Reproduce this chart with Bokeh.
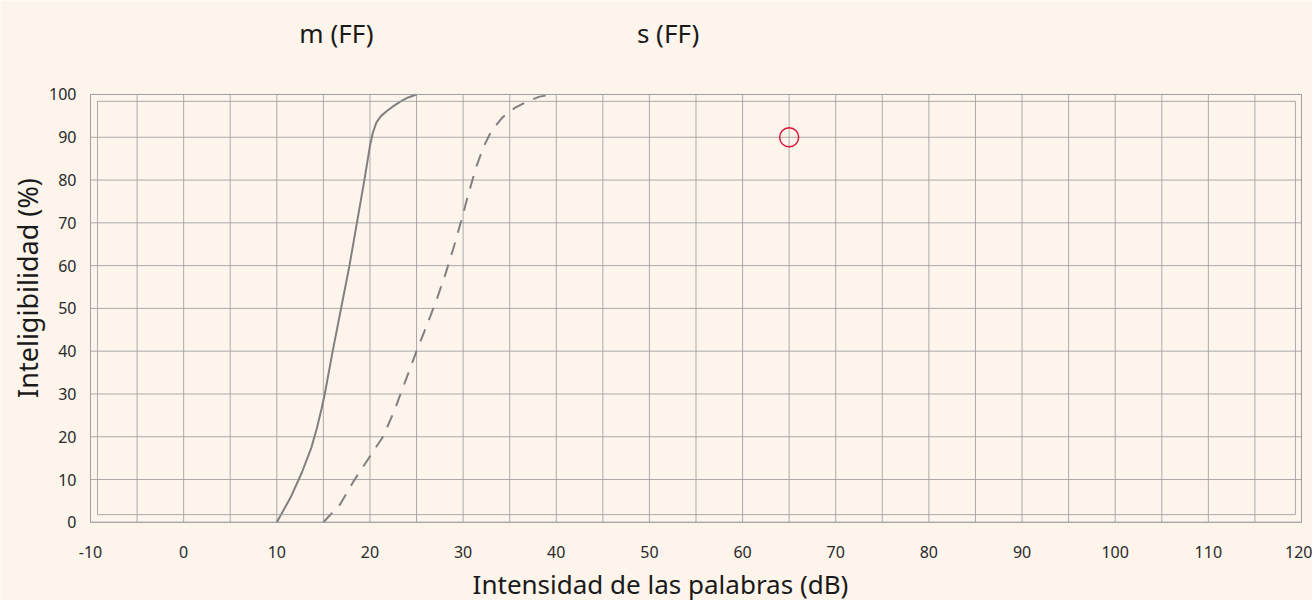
from bokeh.plotting import figure
from bokeh.models import Range1d, FixedTicker, Label, BoxAnnotation
from bokeh.embed import file_html
from bokeh.resources import INLINE

# ---- data ----
series_names = ["m (FF)", "s (FF)"]
m_db = [10, 11.5, 12.7, 13.7, 14.3, 14.8, 15.15, 16.0, 16.9, 17.8, 18.6, 19.4, 20.0, 20.3, 20.7,
        21.2, 21.85, 22.6, 23.3, 24.1, 25.0]
m_pct = [0, 5.9, 11.7, 17.4, 22, 26.5, 30, 40, 50, 60, 70, 80, 88, 91, 93.5,
         95, 96.2, 97.4, 98.4, 99.3, 100]
s_db = [15.0, 16.8, 18.3, 19.9, 21.4, 22.6, 23.8, 25.0, 26.1, 27.15, 28.1, 28.95, 29.8,
        30.6, 31.4, 32.2, 33.0, 34.2, 35.5, 36.9, 38.2, 39.6]
s_pct = [0, 4.2, 9.8, 15.1, 20, 26, 33, 40, 46, 52, 58, 64, 70.5,
         77, 83, 87.8, 91.3, 94.6, 96.8, 98.4, 99.5, 100]
point_db = [65]
point_pct = [90]
x_ticks = list(range(-10, 121, 10))
x_grid = list(range(-10, 121, 5))
y_ticks = list(range(0, 101, 10))
x_title = "Intensidad de las palabras (dB)"
y_title = "Inteligibilidad (%)"

BG = "#fdf4ec"
GRID = "#9e9e9e"
CURVE = "#808080"
FONT = "Noto Sans"
X0, X1 = x_ticks[0], x_ticks[-1]
Y0, Y1 = y_ticks[0], y_ticks[-1]

# the frame covers the whole canvas; the chart box is -10..120 x 0..100
p = figure(width=1312, height=600, output_backend="svg", toolbar_location=None,
           x_range=Range1d(-19.661, 121.181), y_range=Range1d(-18.28, 121.97),
           min_border_left=0, min_border_right=0, min_border_top=0, min_border_bottom=0)
p.background_fill_color = BG
p.border_fill_color = BG
p.outline_line_color = None
p.xgrid.visible = False
p.ygrid.visible = False

# grid lines limited to the chart box
p.segment(x0=x_grid, y0=[Y0] * len(x_grid), x1=x_grid, y1=[Y1] * len(x_grid),
          line_color=GRID, line_width=1, line_alpha=0.85)
p.segment(x0=[X0] * len(y_ticks), y0=y_ticks, x1=[X1] * len(y_ticks), y1=y_ticks,
          line_color=GRID, line_width=1, line_alpha=0.85)

# outer and inner frame
p.add_layout(BoxAnnotation(left=X0, right=X1, bottom=Y0, top=Y1, fill_color=None,
                           line_color=GRID, line_width=1, line_alpha=0.9))
p.add_layout(BoxAnnotation(left=-9.25, right=119.35, bottom=1.8, top=98.4, fill_color=None,
                           line_color=GRID, line_width=1, line_alpha=0.85))

# axes (drawn at fixed data locations)
p.xaxis.ticker = FixedTicker(ticks=x_ticks)
p.yaxis.ticker = FixedTicker(ticks=y_ticks)
p.xaxis.fixed_location = Y0
p.yaxis.fixed_location = X0
p.xaxis.bounds = (-17.6, X1)
p.yaxis.bounds = (Y0, 109.5)
p.xaxis.major_label_overrides = {-10: "-10"}
for ax in (p.xaxis[0], p.yaxis[0]):
    ax.axis_line_color = None
    ax.major_tick_line_color = None
    ax.minor_tick_line_color = None
    ax.major_tick_out = 0
    ax.major_tick_in = 0
    ax.major_label_text_font = FONT
    ax.major_label_text_font_size = "16px"
    ax.major_label_text_color = "#2a2a2a"
    ax.axis_label_text_font = FONT
    ax.axis_label_text_font_size = "26px"
    ax.axis_label_text_font_style = "normal"
    ax.axis_label_text_color = "#1a1a1a"
p.yaxis.axis_label_text_font_size = "27px"
p.xaxis.axis_label = x_title
p.yaxis.axis_label = y_title
p.xaxis.major_label_standoff = 24
p.xaxis.axis_label_standoff = 4
p.yaxis.major_label_standoff = 14
p.yaxis.axis_label_standoff = 0

# curves
p.line(m_db, m_pct, line_color=CURVE, line_width=2)
p.line(s_db, s_pct, line_color=CURVE, line_width=2, line_dash="13 10")
p.scatter(point_db, point_pct, marker="circle", size=19, fill_color=None,
          line_color="#dc143c", line_width=1.5)

# series labels above the chart box
label_x = [16.4, 52.0]
for name, lx in zip(series_names, label_x):
    p.add_layout(Label(x=lx, y=114.3, text=name, text_align="center", text_baseline="middle",
                       text_font=FONT, text_font_size="26px", text_color="#1a1a1a"))

open("out.html", "w").write(file_html(p, INLINE))
